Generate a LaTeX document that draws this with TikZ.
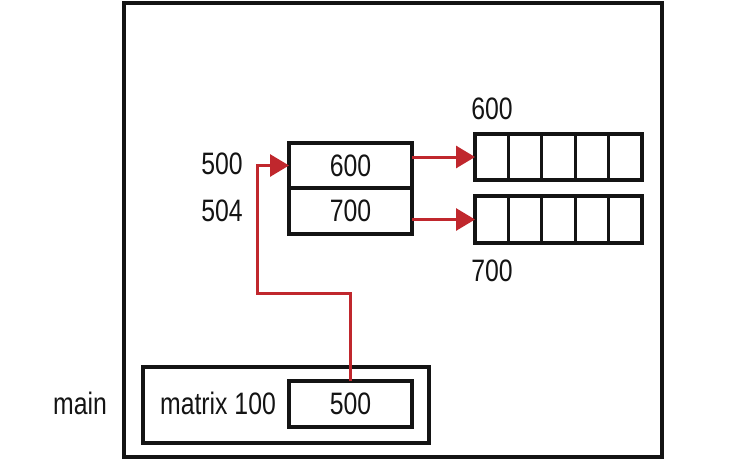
\documentclass[tikz,border=0pt]{standalone}
\usepackage{fontspec}
\setmainfont{Liberation Sans}[FakeStretch=0.8]
\usetikzlibrary{arrows.meta}
\definecolor{ptrred}{RGB}{192,39,45}
\definecolor{ink}{RGB}{20,20,20}
\begin{document}
\begin{tikzpicture}[x=1pt,y=-1pt,
  box/.style={draw=ink, line width=3.2pt, inner sep=0pt, outer sep=0pt,
    font=\fontsize{31}{36}\selectfont, text=ink},
  cell/.style={box, minimum width=33.4pt},
  lbl/.style={inner sep=0pt, font=\fontsize{31}{36}\selectfont, text=ink},
  ptr/.style={draw=ptrred, line width=3pt, -{Triangle[length=19pt,width=22pt]}}
]
\useasboundingbox (0,0) rectangle (736,460);
% outer frame
\node[box, minimum width=538pt, minimum height=454pt] (outer) at (393,230) {};
% main frame
\node[box, minimum width=286pt, minimum height=76pt] (mainbox) at (286,405) {};
\node[lbl] (mainlbl) at (80,403) {main};
\node[lbl] (matlbl) at (218,403) {matrix 100};
\node[box, minimum width=123pt, minimum height=46pt] (m500) at (350.5,404) {500};
% pointer array
\node[box, minimum width=123pt, minimum height=45pt] (p600) at (350.5,165.5) {600};
\node[box, minimum width=123pt, minimum height=46pt] (p700) at (350.5,211) {700};
\node[lbl] (l500) at (222,164) {500};
\node[lbl] (l504) at (222,211) {504};
% rows
\foreach \i/\x in {1/491.7,2/525.1,3/558.5,4/591.9,5/625.3}{
  \node[cell, minimum height=46pt] (a\i) at (\x,157) {};
  \node[cell, minimum height=47pt] (b\i) at (\x,219.5) {};
}
\node[lbl] (r600) at (492,109) {600};
\node[lbl] (r700) at (492,271) {700};
% connectors
\draw[ptr] (p600.east |- a1.west) -- (a1.west);
\draw[ptr] (p700.east |- b1.west) -- (b1.west);
\coordinate (bend) at (257,293);
\draw[ptr] (m500.north) -- (m500.north |- bend) -- (bend) -- (bend |- p600.west) -- (p600.west);
\end{tikzpicture}
\end{document}
